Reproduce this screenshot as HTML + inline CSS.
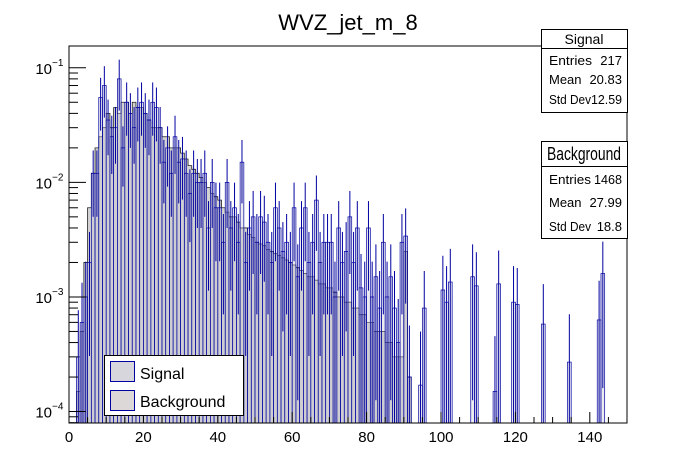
<!DOCTYPE html>
<html><head><meta charset="utf-8">
<style>
body{margin:0;background:#fff;}
svg{display:block;font-family:"Liberation Sans",Arial,sans-serif;}
</style></head>
<body>
<svg id="c" width="696" height="472" viewBox="0 0 696 472">
<rect width="696" height="472" fill="#fff"/>
<text x="348" y="30" font-size="22" text-anchor="middle">WVZ_jet_m_8</text>
<g id="plot"></g>
</svg>
<script>
const binEdges0 = 0, binWidth = 1, nBins = 150;
const xTickLabels = ["0","20","40","60","80","100","120","140"];
const yTickLabels = ["10","10","10","10"];
const yTickExps = ["−1","−2","−3","−4"];
const background = [0,0,1.5e-4,5e-4,2e-3,6e-3,0.012,0.02,0.025,0.03,0.04,0.03,0.045,0.04,0.05,0.05,0.04,0.05,0.045,0.045,
0.04,0.035,0.03,0.03,0.03,0.025,0.025,0.02,0.02,0.02,0.018,0.016,0.014,0.013,0.012,0.011,0.01,0.009,0.008,0.0075,
0.007,0.006,0.0055,0.005,0.005,0.0045,0.004,0.004,0.0035,0.0033,0.003,0.0029,0.0028,0.0026,0.0025,0.0024,0.0023,0.0022,0.0021,0.002,
0.0019,0.0018,0.0017,0.0016,0.0015,0.0015,0.0014,0.0013,0.0013,0.0012,0.0012,0.0011,0.001,0.001,0.0009,0.0009,0.0008,0.0008,0.0007,0.0007,
0.0006,0.0006,0.0005,0.0005,0.0005,0.0004,0.0004,0.0003,0.0003,0.0003,0.0025,0.0002,0,0,0,0,0,0,0,0,
0,0,0,0,0,0,0,0,0,0,0,0,0,0,0,0,0,0,0,0,0,0,0,0,0,0,0,0,0,0,0,0,0,0,0,0,0,0,0,0,0,0,0,0,0,0,0,0,0,0];
const signal = [0,0,3e-4,6e-4,1e-3,2e-3,0.012,0.012,0.055,0.07,0.035,0.025,0.03,0.08,0.02,0.05,0.04,0.03,0.045,0.05,
0.04,0.035,0.05,0.045,0.03,0.015,0.02,0.012,0.025,0.015,0.016,0.012,0.008,0.012,0.01,0.01,0.012,0.004,0.01,0.006,
0.006,0.003,0.01,0.004,0.006,0.003,0.015,0.002,0.004,0.005,0.003,0.005,0.0045,0.003,0.002,0.006,0.004,0.0025,0.003,0.002,
0.006,0.0015,0.004,0.006,0.002,0.003,0.007,0.002,0.003,0.003,0.003,0.001,0.004,0.002,0.0025,0.005,0.002,0.004,0.0012,0.001,
0.004,0.001,0.0015,0.0008,0.003,0.001,0.0015,0.0008,0.0004,0.003,0.0034,0.0002,0,0,1.7e-4,8e-4,0,0,0,0,
1.15e-3,9e-4,1.35e-3,0,0,0,0,0,1.5e-3,1.25e-3,0,0,0,0,1.5e-4,1.3e-3,0,0,0,9e-4,8.6e-4,0,0,0,0,0,0,5.8e-4,0,0,
0,0,0,0,2.7e-4,0,0,0,0,0,0,0,6.3e-4,1.6e-3,0,0,0,0,0,0];

const X0=69,X1=627,Y0=46,Y1=423;
const xMin=0,xMax=150,lMin=-4.1,lMax=-0.81;
const sx=v=>X0+(v-xMin)/(xMax-xMin)*(X1-X0);
const sy=v=>{if(v<=0)return Y1;const l=Math.log10(v);return Math.max(Y0,Math.min(Y1,Y1-(l-lMin)/(lMax-lMin)*(Y1-Y0)));};
const NS="http://www.w3.org/2000/svg";
const plot=document.getElementById('plot');
function mk(t,a,p){const e=document.createElementNS(NS,t);for(const k in a)e.setAttribute(k,a[k]);(p||plot).appendChild(e);return e;}

// background histogram
const gB=mk('g',{});


let dB='M'+sx(0)+','+Y1;
for(let i=0;i<nBins;i++){const y=sy(background[i]);dB+=' L'+sx(i*binWidth)+','+y+' L'+sx((i+1)*binWidth)+','+y;}
dB+=' L'+X1+','+Y1+' Z';
mk('path',{d:dB,fill:'#d2d2d2',stroke:'#222','stroke-width':0.8},gB);

// signal histogram
const gS=mk('g',{});


for(let i=0;i<nBins;i++){
  const v=signal[i]; if(v<=0)continue;
  const r=mk('rect',{x:sx(i*binWidth),y:sy(v),width:sx(binWidth)-sx(0),height:Y1-sy(v),fill:'#c8c8d4',stroke:'#0000a0','stroke-width':0.7,'fill-opacity':0.35},gS);
  
  
  const err=0.4*v+Math.sqrt(v)*0.02;
  const cx=sx((i+0.5)*binWidth);
  const el=mk('line',{x1:cx,x2:cx,y1:sy(v+err),y2:sy(v-err>0?v-err:0),stroke:'#0000a0','stroke-width':1},gS);
  
  
}

// frame
const fr=mk('rect',{x:X0,y:Y0,width:X1-X0,height:Y1-Y0,fill:'none',stroke:'#000','stroke-width':1});



// x axis ticks
const gX=mk('g',{});


for(let v=0;v<=150;v+=5){const x=sx(v);const maj=v%20===0;mk('line',{x1:x,x2:x,y1:Y1,y2:Y1-(maj?11:6),stroke:'#000'},gX);}
xTickLabels.forEach((t,i)=>{const tx=mk('text',{x:sx(+t),y:442,'font-size':15,'text-anchor':'middle'},gX);tx.textContent=t;

});

// y axis ticks
const gY=mk('g',{});


for(let d=-5;d<=-1;d++){for(let m=1;m<10;m++){const v=m*Math.pow(10,d);const l=Math.log10(v);if(l<lMin||l>lMax)continue;const y=sy(v);mk('line',{x1:X0,x2:X0+(m===1?17:9),y1:y,y2:y,stroke:'#000'},gY);}}
yTickLabels.forEach((t,i)=>{const y=sy(Math.pow(10,-(i+1)));const tx=mk('text',{x:52,y:y+6,'font-size':15,'text-anchor':'end'},gY);tx.textContent=t;


const ex=mk('text',{x:52,y:y-2,'font-size':10},gY);ex.textContent=yTickExps[i];

});
</script>

<svg style="position:absolute;left:0;top:0" width="696" height="472">
<g font-family="Liberation Sans, Arial, sans-serif">
<rect x="541.5" y="29.5" width="86" height="83" fill="#fff" stroke="#000"/>
<line x1="541.5" y1="48.5" x2="627.5" y2="48.5" stroke="#000"/>
<text x="584" y="44" font-size="14" text-anchor="middle">Signal</text>
<text x="549" y="65" font-size="13" textLength="43" lengthAdjust="spacingAndGlyphs">Entries</text><text x="622" y="65" font-size="13" text-anchor="end">217</text>
<text x="549" y="84" font-size="13">Mean</text><text x="622" y="84" font-size="13" text-anchor="end">20.83</text>
<text x="549" y="104" font-size="13" textLength="42" lengthAdjust="spacingAndGlyphs">Std Dev</text><text x="622" y="104" font-size="13" text-anchor="end" textLength="31" lengthAdjust="spacingAndGlyphs">12.59</text>
</g>
<g font-family="Liberation Sans, Arial, sans-serif">
<rect x="541.5" y="141.5" width="86" height="97" fill="#fff" stroke="#000"/>
<line x1="541.5" y1="166.5" x2="627.5" y2="166.5" stroke="#000"/>
<text x="547" y="160" font-size="18" textLength="74" lengthAdjust="spacingAndGlyphs">Background</text>
<text x="549" y="184" font-size="13" textLength="42" lengthAdjust="spacingAndGlyphs">Entries</text><text x="622" y="184" font-size="13" text-anchor="end" textLength="28" lengthAdjust="spacingAndGlyphs">1468</text>
<text x="549" y="207" font-size="13">Mean</text><text x="622" y="207" font-size="13" text-anchor="end">27.99</text>
<text x="549" y="231" font-size="13" textLength="42" lengthAdjust="spacingAndGlyphs">Std Dev</text><text x="622" y="231" font-size="13" text-anchor="end">18.8</text>
</g>
<g font-family="Liberation Sans, Arial, sans-serif">
<rect x="104.5" y="355.5" width="139" height="60" fill="#fff" stroke="#000"/>
<rect x="110.5" y="361.5" width="24" height="20" fill="#d6d6dc" stroke="#0000a0"/>
<text x="140" y="379" font-size="16">Signal</text>
<rect x="110.5" y="390.5" width="24" height="20" fill="#dcd8d8" stroke="#0000a0"/>
<text x="140" y="407" font-size="16">Background</text>
</g>
</svg>
</body></html>
